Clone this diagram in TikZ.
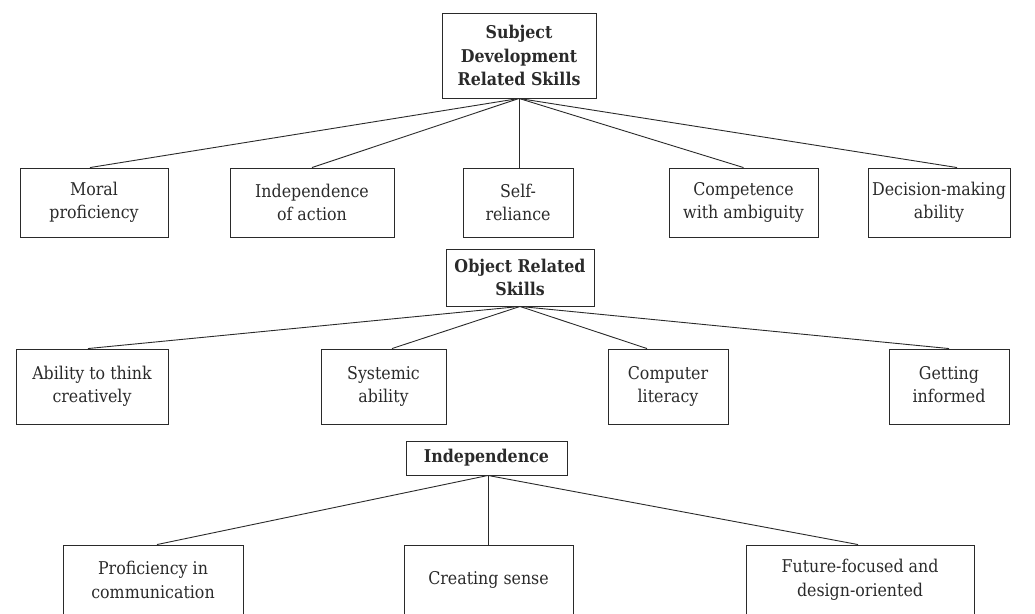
\documentclass[tikz,border=0pt]{standalone}
\usepackage{fontspec}
\setmainfont{DejaVu Serif Condensed}
\usetikzlibrary{calc}
\definecolor{ink}{HTML}{2A2A2A}
\begin{document}
\begin{tikzpicture}[x=1pt,y=-1pt,
  box/.style={draw=ink, line width=0.9pt, text=ink, align=center, inner sep=0pt,
    font=\fontsize{17.6}{23.5}\selectfont},
  head/.style={box, font=\fontsize{17.6}{23.5}\selectfont\bfseries},
  link/.style={draw=ink, line width=0.9pt}]
\useasboundingbox (0,0) rectangle (1035,613);
% level 1
\node[head, minimum width=154pt, minimum height=85pt] (subj) at (519,55.5) {Subject\\Development\\Related Skills};
\node[box, minimum width=148pt, minimum height=69pt] (moral) at (94,202.5) {Moral\\proficiency};
\node[box, minimum width=164pt, minimum height=69pt] (indact) at (312,202.5) {Independence\\of action};
\node[box, minimum width=110pt, minimum height=69pt] (self) at (518,202.5) {Self-\\reliance};
\node[box, minimum width=149pt, minimum height=69pt] (comp) at (743.5,202.5) {Competence\\with ambiguity};
\node[box, minimum width=142pt, minimum height=69pt] (dec) at (939,202.5) {Decision-making\\ability\vphantom{y}};
% level 2
\node[head, minimum width=148pt, minimum height=57pt] (obj) at (520,277.5) {Object Related\\Skills};
\node[box, minimum width=152pt, minimum height=75pt] (abil) at (92,386.5) {Ability to think\\creatively};
\node[box, minimum width=125pt, minimum height=75pt] (sys) at (383.5,386.5) {Systemic\\ability};
\node[box, minimum width=120pt, minimum height=75pt] (compl) at (668,386.5) {Computer\\literacy};
\node[box, minimum width=120pt, minimum height=75pt] (get) at (949,386.5) {Getting\\informed\vphantom{y}};
% level 3
\node[head, minimum width=161pt, minimum height=34pt] (ind) at (486.5,458) {Independence};
\node[box, minimum width=180pt, minimum height=70pt] (prof) at (153,580) {Proficiency in\\communication};
\node[box, minimum width=169pt, minimum height=70pt] (crea) at (488.5,580) {Creating sense};
\node[box, minimum width=228pt, minimum height=70pt] (fut) at (860,580) {Future-focused and\\design-oriented};
% connectors
\draw[link] (subj.south) -- ($(moral.north)+(-4,0)$);
\draw[link] (subj.south) -- (indact.north);
\draw[link] (subj.south) -- (subj.south |- self.north);
\draw[link] (subj.south) -- (comp.north);
\draw[link] (subj.south) -- ($(dec.north)+(18,0)$);
\draw[link] (obj.south) -- ($(abil.north)+(-4,0)$);
\draw[link] (obj.south) -- ($(sys.north)+(8.5,0)$);
\draw[link] (obj.south) -- ($(compl.north)+(-21,0)$);
\draw[link] (obj.south) -- (get.north);
\coordinate (indfoot) at ($(ind.south)+(1.5,0)$);
\draw[link] (indfoot) -- ($(prof.north)+(4,0)$);
\draw[link] (indfoot) -- (indfoot |- crea.north);
\draw[link] (indfoot) -- ($(fut.north)+(-2,0)$);
\end{tikzpicture}
\end{document}
